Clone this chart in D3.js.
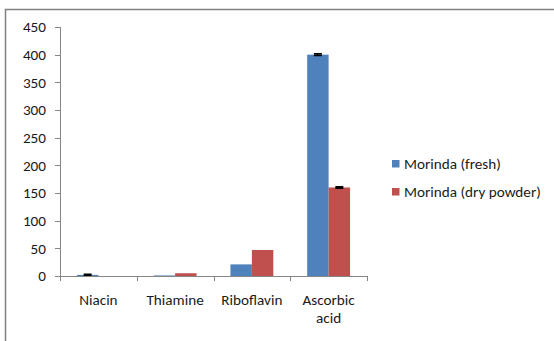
<!DOCTYPE html>
<html><head><meta charset="utf-8">
<script src="https://cdn.jsdelivr.net/npm/d3@7"></script>
<style>body{margin:0;background:#fff}svg{display:block}</style>
</head><body>
<svg id="c" width="554" height="341"></svg>
<script>
const categories = [["Niacin"], ["Thiamine"], ["Riboflavin"], ["Ascorbic", "acid"]];
const seriesNames = ["Morinda (fresh)", "Morinda (dry powder)"];
const fresh = [2, 1, 21, 400];
const dry = [0, 5, 47, 160];
const freshErr = [1, 0, 0, 1.5];
const dryErr = [0, 0, 0, 1.5];
const yTicks = [0, 50, 100, 150, 200, 250, 300, 350, 400, 450];
const colors = ["#4F81BD", "#C0504D"];

const svg = d3.select("#c");
const font = "Carlito, 'Open Sans', 'Liberation Sans', sans-serif";
const fs = 15.2;
const tc = "#1a1a1a";
// outer frame
svg.append("path").attr("d", "M5.5,341 V9.5 H554").attr("fill", "none").attr("stroke", "#808080").attr("stroke-width", 1.5);

const x0 = 60, x1 = 367, yTop = 27, yBot = 276;
const x = d3.scaleBand().domain(d3.range(categories.length)).range([x0, x1]);
const y = d3.scaleLinear().domain([0, 450]).range([yBot, yTop]);
const sub = d3.scaleBand().domain([0, 1]).range([0, x.bandwidth()]).paddingOuter(0.79).paddingInner(0);

const series = [fresh, dry];
const errs = [freshErr, dryErr];
series.forEach((vals, s) => {
  svg.append("g").selectAll("rect").data(vals).join("rect")
    .attr("x", (d, i) => x(i) + sub(s))
    .attr("width", sub.bandwidth())
    .attr("y", d => y(d))
    .attr("height", d => y(0) - y(d))
    .attr("fill", colors[s]);
  const eb = vals.map((v, i) => ({ v, i, e: errs[s][i] })).filter(o => o.e > 0);
  svg.append("g").selectAll("path").data(eb).join("path")
    .attr("d", o => {
      const cx = x(o.i) + sub(s) + sub.bandwidth() / 2;
      return `M${cx - 4},${y(o.v + o.e)} H${cx + 4} M${cx},${y(o.v + o.e)} V${y(o.v - o.e)} M${cx - 4},${y(o.v - o.e)} H${cx + 4}`;
    })
    .attr("stroke", "#000").attr("stroke-width", 1.5).attr("fill", "none");
});

// y axis
const ax = svg.append("g").attr("stroke", "#868686");
ax.append("line").attr("x1", x0 + 0.5).attr("x2", x0 + 0.5).attr("y1", yTop).attr("y2", yBot);
ax.selectAll(".yt").data(yTicks).join("line")
  .attr("x1", x0 - 5).attr("x2", x0).attr("y1", d => Math.round(y(d)) + 0.5).attr("y2", d => Math.round(y(d)) + 0.5);
svg.append("g").selectAll("text").data(yTicks).join("text")
  .attr("x", 46).attr("y", d => y(d)).attr("dy", "0.35em")
  .attr("text-anchor", "end").attr("font-family", font).attr("font-size", fs).attr("fill", tc)
  .text(d => d);

// x axis
ax.append("line").attr("x1", x0).attr("x2", x1).attr("y1", yBot + 0.5).attr("y2", yBot + 0.5);
ax.selectAll(".xt").data(d3.range(categories.length + 1)).join("line")
  .attr("x1", i => Math.round(x0 + i * x.step()) + 0.5).attr("x2", i => Math.round(x0 + i * x.step()) + 0.5)
  .attr("y1", yBot).attr("y2", yBot + 5);
const xl = svg.append("g").selectAll("text").data(categories).join("text")
  .attr("x", (d, i) => x(i) + x.bandwidth() / 2).attr("y", 305)
  .attr("text-anchor", "middle").attr("font-family", font).attr("font-size", fs).attr("fill", tc);
xl.selectAll("tspan").data(d => d).join("tspan")
  .attr("x", function () { return this.parentNode.getAttribute("x"); })
  .attr("dy", (d, j) => j === 0 ? 0 : 18).text(d => d);

// legend
const lg = svg.append("g").selectAll("g").data(seriesNames).join("g")
  .attr("transform", (d, i) => `translate(392,${163.5 + i * 28})`);
lg.append("rect").attr("x", 0).attr("y", -3.5).attr("width", 7.5).attr("height", 7.5).attr("fill", (d, i) => colors[i]);
lg.append("text").attr("x", 12).attr("y", 0).attr("dy", "0.35em")
  .attr("font-family", font).attr("font-size", fs).attr("fill", tc).text(d => d);
</script>
</body></html>
